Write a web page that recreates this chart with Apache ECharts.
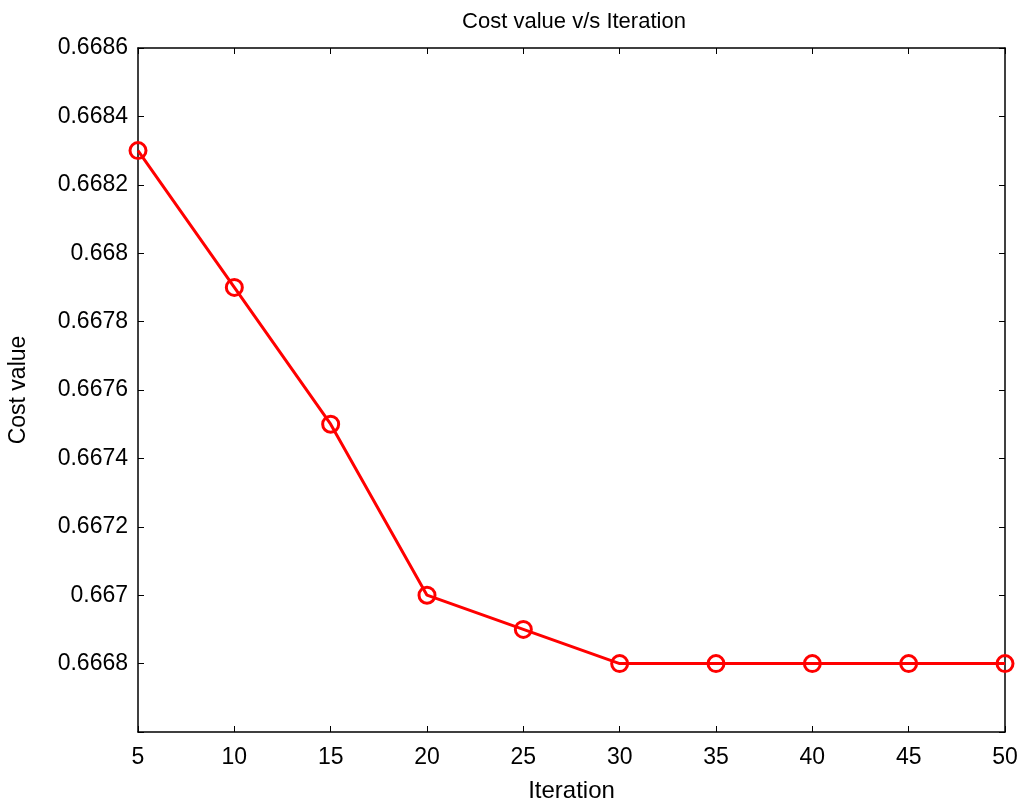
<!DOCTYPE html>
<html>
<head>
<meta charset="utf-8">
<script src="https://cdn.jsdelivr.net/npm/echarts@6/dist/echarts.min.js"></script>
<style>html,body{margin:0;padding:0;background:#fff}#c{width:1023px;height:804px}</style>
</head>
<body>
<div id="c"></div>
<script>
const titleText = 'Cost value v/s Iteration';
const xName = 'Iteration';
const yName = 'Cost value';
const iterations = [5, 10, 15, 20, 25, 30, 35, 40, 45, 50];
const costValues = [0.6683, 0.6679, 0.6675, 0.6670, 0.6669, 0.6668, 0.6668, 0.6668, 0.6668, 0.6668];
const yMin = 0.6666, yMax = 0.6686, yStep = 0.0002;
const xMin = 5, xMax = 50, xStep = 5;

const font = 'Liberation Sans, Arial, sans-serif';
const chart = echarts.init(document.getElementById('c'));
const tickStyle = {show: true, inside: true, length: 6, lineStyle: {color: '#000', width: 1}};
const fmtY = v => (Math.abs(v - yMin) < 1e-9) ? '' : String(+v.toFixed(4));
chart.setOption({
  animation: false,
  backgroundColor: '#fff',
  title: {text: titleText, left: 569, top: 6, textAlign: 'center',
    textStyle: {fontFamily: font, fontSize: 22, fontWeight: 'normal', color: '#000'}},
  grid: {left: 138, right: 18, top: 48, bottom: 72, containLabel: false, outerBoundsMode: 'none'},
  xAxis: [
    {type: 'value', min: xMin, max: xMax, interval: xStep, position: 'bottom',
     name: xName, nameLocation: 'middle', nameGap: 47,
     nameTextStyle: {fontFamily: font, fontSize: 24, color: '#000'},
     axisLine: {show: true, lineStyle: {color: '#000', width: 1.5}},
     axisTick: tickStyle, splitLine: {show: false},
     axisLabel: {fontFamily: font, fontSize: 23, color: '#000', margin: 14}},
    {type: 'value', min: xMin, max: xMax, interval: xStep, position: 'top',
     axisLine: {show: true, lineStyle: {color: '#000', width: 1.5}},
     axisTick: tickStyle, splitLine: {show: false}, axisLabel: {show: false}}
  ],
  yAxis: [
    {type: 'value', min: yMin, max: yMax, interval: yStep, position: 'left',
     name: yName, nameLocation: 'middle', nameGap: 108,
     nameTextStyle: {fontFamily: font, fontSize: 23, color: '#000'},
     axisLine: {show: true, lineStyle: {color: '#000', width: 1.5}},
     axisTick: tickStyle, splitLine: {show: false},
     axisLabel: {fontFamily: font, fontSize: 23, color: '#000', margin: 10, formatter: fmtY}},
    {type: 'value', min: yMin, max: yMax, interval: yStep, position: 'right',
     axisLine: {show: true, lineStyle: {color: '#000', width: 1.5}},
     axisTick: tickStyle, splitLine: {show: false}, axisLabel: {show: false}}
  ],
  series: [{
    type: 'line',
    data: iterations.map((x, i) => [x, costValues[i]]),
    xAxisIndex: 0, yAxisIndex: 0,
    lineStyle: {color: '#ff0000', width: 3},
    symbol: 'circle', symbolSize: 16,
    itemStyle: {color: 'rgba(0,0,0,0)', borderColor: '#ff0000', borderWidth: 3},
    clip: false
  }]
});
</script>
</body>
</html>
